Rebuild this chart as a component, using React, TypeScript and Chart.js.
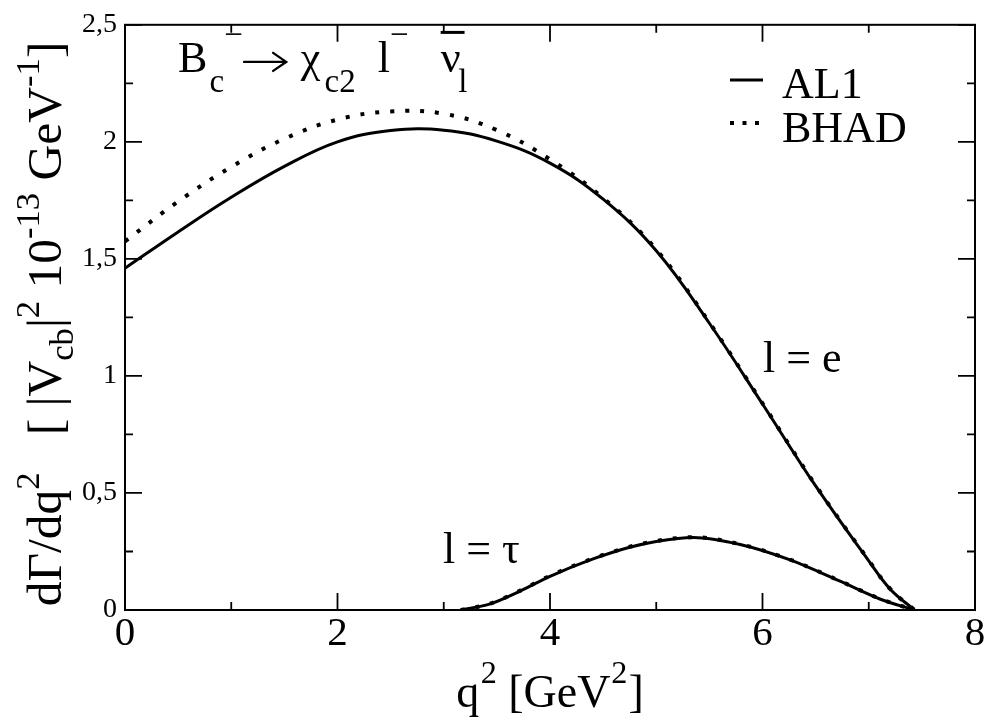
import { useEffect, useRef } from 'react';
import { Chart, registerables } from 'chart.js';

Chart.register(...registerables);

const FONT = "'Liberation Serif', 'Times New Roman', serif";

// q^2 grid for the l = e curves (GeV^2)
const qE = [0, 0.5, 1, 1.5, 2, 2.5, 3, 3.5, 4, 4.5, 5, 5.5, 6, 6.5, 7, 7.2, 7.43];
// AL1, l = e
const al1E = [1.46, 1.615, 1.763, 1.895, 2.0, 2.048, 2.05, 2.003, 1.909, 1.755, 1.535, 1.225, 0.88, 0.53, 0.21, 0.09, 0];
// BHAD, l = e
const bhadE = [1.575, 1.745, 1.893, 2.013, 2.095, 2.13, 2.12, 2.05, 1.925, 1.76, 1.54, 1.228, 0.883, 0.533, 0.212, 0.091, 0];

// q^2 grid for the l = tau curves
const qTau = [3.16, 3.43, 3.72, 4.0, 4.38, 4.75, 5.0, 5.35, 5.79, 6.26, 6.73, 7.11, 7.43];
const al1Tau = [0, 0.025, 0.081, 0.144, 0.214, 0.268, 0.293, 0.31, 0.28, 0.214, 0.123, 0.046, 0];
const bhadTau = [0, 0.026, 0.083, 0.146, 0.216, 0.27, 0.295, 0.311, 0.281, 0.215, 0.124, 0.047, 0];

const xMajor = [0, 2, 4, 6, 8];
const xMinor = [1, 3, 5, 7];
const yMajor = [0, 0.5, 1, 1.5, 2, 2.5];
const yMinor = [0.25, 0.75, 1.25, 1.75, 2.25];

type Seg = { t: string; s?: number; dy?: number; dx?: number; over?: boolean; f?: string; arrow?: number };

function richWidth(ctx: CanvasRenderingContext2D, segs: Seg[], size: number) {
  let w = 0;
  for (const g of segs) {
    ctx.font = `${size * (g.s ?? 1)}px ${g.f ?? FONT}`;
    w += (g.dx ?? 0) * size + (g.arrow ?? ctx.measureText(g.t).width);
  }
  return w;
}

function drawRich(ctx: CanvasRenderingContext2D, segs: Seg[], x: number, y: number, size: number) {
  let cx = x;
  ctx.textAlign = 'left';
  ctx.textBaseline = 'alphabetic';
  for (const g of segs) {
    const fs = size * (g.s ?? 1);
    ctx.font = `${fs}px ${g.f ?? FONT}`;
    cx += (g.dx ?? 0) * size;
    const yy = y + (g.dy ?? 0) * size;
    if (g.arrow) {
      const ay = y - size * 0.23;
      const L = g.arrow;
      ctx.save();
      ctx.lineWidth = 2.4;
      ctx.lineCap = 'round';
      ctx.beginPath();
      ctx.moveTo(cx, ay);
      ctx.lineTo(cx + L, ay);
      ctx.moveTo(cx + L - 13, ay - 9);
      ctx.lineTo(cx + L, ay);
      ctx.lineTo(cx + L - 13, ay + 9);
      ctx.stroke();
      ctx.restore();
      cx += L;
      continue;
    }
    ctx.fillText(g.t, cx, yy);
    const w = ctx.measureText(g.t).width;
    if (g.over) {
      ctx.beginPath();
      ctx.lineWidth = 3;
      ctx.moveTo(cx, yy - fs * 0.9);
      ctx.lineTo(cx + w + 4, yy - fs * 0.9);
      ctx.stroke();
    }
    cx += w;
  }
}

const decor = {
  id: 'decor',
  afterDraw(chart: any) {
    const ctx: CanvasRenderingContext2D = chart.ctx;
    const { left, right, top, bottom } = chart.chartArea;
    const xs = chart.scales.x;
    const ys = chart.scales.y;
    ctx.save();
    ctx.strokeStyle = '#000';
    ctx.fillStyle = '#000';
    ctx.lineWidth = 2;
    ctx.strokeRect(left, top, right - left, bottom - top);

    const MAJ = 17;
    const MIN = 8;
    ctx.lineWidth = 1.8;
    ctx.beginPath();
    for (const v of xMajor) {
      const p = xs.getPixelForValue(v);
      ctx.moveTo(p, bottom); ctx.lineTo(p, bottom - MAJ);
      ctx.moveTo(p, top); ctx.lineTo(p, top + MAJ);
    }
    for (const v of xMinor) {
      const p = xs.getPixelForValue(v);
      ctx.moveTo(p, bottom); ctx.lineTo(p, bottom - MIN);
      ctx.moveTo(p, top); ctx.lineTo(p, top + MIN);
    }
    for (const v of yMajor) {
      const p = ys.getPixelForValue(v);
      ctx.moveTo(left, p); ctx.lineTo(left + MAJ, p);
      ctx.moveTo(right, p); ctx.lineTo(right - MAJ, p);
    }
    for (const v of yMinor) {
      const p = ys.getPixelForValue(v);
      ctx.moveTo(left, p); ctx.lineTo(left + MIN, p);
      ctx.moveTo(right, p); ctx.lineTo(right - MIN, p);
    }
    ctx.stroke();

    // x axis title
    const xt: Seg[] = [
      { t: 'q' },
      { t: '2', s: 0.7, dy: -0.52, dx: 0.03 },
      { t: ' [GeV' },
      { t: '2', s: 0.7, dy: -0.52, dx: 0.02 },
      { t: ']', dx: 0.02 },
    ];
    const xsize = 46;
    const xw = richWidth(ctx, xt, xsize);
    drawRich(ctx, xt, (left + right) / 2 - xw / 2, 707, xsize);

    // y axis title (rotated)
    const yt: Seg[] = [
      { t: 'dΓ/dq' },
      { t: '2', s: 0.7, dy: -0.45 },
      { t: '   [ |V' },
      { t: 'cb', s: 0.7, dy: 0.25 },
      { t: '|' },
      { t: '2', s: 0.7, dy: -0.45 },
      { t: ' 10' },
      { t: '-13', s: 0.7, dy: -0.45 },
      { t: ' GeV' },
      { t: '-1', s: 0.7, dy: -0.45 },
      { t: ']' },
    ];
    const ysize = 49.5;
    const yw = richWidth(ctx, yt, ysize);
    ctx.save();
    ctx.translate(61, 324);
    ctx.rotate(-Math.PI / 2);
    drawRich(ctx, yt, -yw / 2, 0, ysize);
    ctx.restore();

    // in-plot title
    const tt: Seg[] = [
      { t: 'B' },
      { t: 'c', s: 0.75, dy: 0.45, dx: 0.05 },
      { t: '\u2212', s: 0.75, dy: -0.62 },
      { t: '', arrow: 42, dx: 0.03 },
      { t: 'χ', dx: 0.33 },
      { t: 'c2', s: 0.75, dy: 0.45, dx: 0.1 },
      { t: 'l', dx: 0.5 },
      { t: '\u2212', s: 0.75, dy: -0.62 },
      { t: 'ν', dx: 0.73, over: true },
      { t: 'l', s: 0.75, dy: 0.45, dx: -0.05 },
    ];
    drawRich(ctx, tt, 178, 72, 44);

    // legend
    ctx.lineWidth = 3;
    ctx.beginPath();
    ctx.moveTo(730, 80); ctx.lineTo(763, 80);
    ctx.stroke();
    ctx.save();
    ctx.lineWidth = 4;
    ctx.setLineDash([4, 8.5]);
    ctx.beginPath();
    ctx.moveTo(730, 123); ctx.lineTo(763, 123);
    ctx.stroke();
    ctx.restore();
    ctx.font = `44px ${FONT}`;
    ctx.textAlign = 'left';
    ctx.textBaseline = 'alphabetic';
    ctx.fillText('AL1', 782, 98);
    ctx.fillText('BHAD', 782, 142);

    // curve labels
    ctx.fillText('l = e', 763, 372);
    ctx.fillText('l = τ', 443, 563);
    ctx.restore();
  },
};

export default function App() {
  const ref = useRef<HTMLCanvasElement>(null);
  useEffect(() => {
    const canvas = ref.current!;
    const mk = (xs: number[], ys: number[]) => xs.map((x, i) => ({ x, y: ys[i] }));
    const solid = {
      borderColor: '#000',
      borderWidth: 3,
      pointRadius: 0,
      fill: false,
    };
    const dotted = {
      borderColor: '#000',
      borderWidth: 4,
      borderDash: [4, 11],
      pointRadius: 0,
      fill: false,
    };
    const smoothE = { tension: 0.4 };
    const smoothT = { cubicInterpolationMode: 'monotone' as const };
    const chart = new Chart(canvas, {
      type: 'line',
      data: {
        datasets: [
          { label: 'AL1 e', data: mk(qE, al1E), ...solid, ...smoothE },
          { label: 'AL1 tau', data: mk(qTau, al1Tau), ...solid, ...smoothT },
          { label: 'BHAD e', data: mk(qE, bhadE), ...dotted, ...smoothE },
          { label: 'BHAD tau', data: mk(qTau, bhadTau), ...dotted, ...smoothT },
        ],
      },
      options: {
        responsive: false,
        animation: false,
        devicePixelRatio: 1,
        layout: { padding: { left: 0, right: 11, top: 14, bottom: 0 } },
        plugins: { legend: { display: false }, tooltip: { enabled: false } },
        scales: {
          x: {
            type: 'linear',
            min: 0,
            max: 8,
            grid: { display: false, drawTicks: false, tickLength: 0 },
            border: { display: false },
            ticks: {
              stepSize: 2,
              autoSkip: false,
              maxRotation: 0,
              padding: 0,
              color: '#000',
              font: { family: FONT, size: 41 },
            },
            afterFit: (s: any) => { s.height = 110; },
          },
          y: {
            type: 'linear',
            min: 0,
            max: 2.5,
            grid: { display: false, drawTicks: false, tickLength: 0 },
            border: { display: false },
            ticks: {
              stepSize: 0.5,
              padding: 8,
              color: '#000',
              font: { family: FONT, size: 28 },
              callback: (v: any) => String(v).replace('.', ','),
            },
            afterFit: (s: any) => { s.width = 125; },
          },
        },
      },
      plugins: [decor],
    });
    return () => chart.destroy();
  }, []);
  return (
    <div style={{ position: 'fixed', left: 0, top: 0, width: 986, height: 720, background: '#fff' }}>
      <canvas ref={ref} width={986} height={720} style={{ display: 'block', width: 986, height: 720 }} />
    </div>
  );
}
